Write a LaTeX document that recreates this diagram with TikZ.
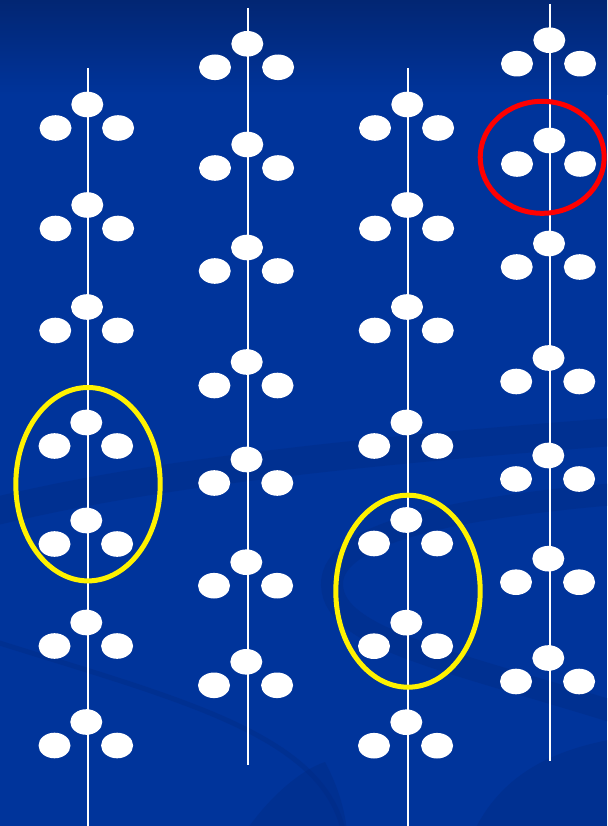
\documentclass[tikz,border=0pt]{standalone}
\usetikzlibrary{shapes.geometric}
\definecolor{bgmain}{RGB}{0,52,155}
\definecolor{bgtop}{RGB}{2,38,115}
\definecolor{bgdark}{RGB}{0,42,132}
\begin{document}
\begin{tikzpicture}[x=1pt,y=-1pt,
  dot/.style={ellipse, fill=white, minimum width=32pt, minimum height=25.6pt, inner sep=0pt, outer sep=0pt},
  stem/.style={white, line width=2pt},
  ring/.style={ellipse, draw, line width=5pt, inner sep=0pt, fill=none},
  swoosh/.style={bgdark, opacity=0.4, line cap=round}]
\useasboundingbox (0,0) rectangle (607,826);
\begin{scope}
\clip (0,0) rectangle (607,826);
% background
\fill[bgmain] (0,0) rectangle (607,826);
\shade[top color=bgtop, bottom color=bgmain] (0,0) rectangle (607,95);
% subtle swooshes
\draw[swoosh, line width=28pt] (-20,515) .. controls (120,480) and (300,455) .. (640,430);
\draw[swoosh, line width=22pt] (640,492) .. controls (470,505) and (330,530) .. (332,585) .. controls (334,640) and (450,660) .. (640,720);
\draw[swoosh, line width=5pt] (-10,640) .. controls (180,700) and (330,735) .. (345,840);
\fill[swoosh] (470,840) .. controls (500,770) and (560,745) .. (640,735) -- (640,840) -- cycle;
\fill[swoosh] (240,840) .. controls (265,800) and (300,770) .. (325,762) .. controls (340,790) and (346,815) .. (348,840) -- cycle;
% stems
\coordinate (s1a) at (87.5,68);  \coordinate (s1b) at (87.5,826);
\coordinate (s2a) at (247.5,8);  \coordinate (s2b) at (247.5,765);
\coordinate (s3a) at (407.5,68); \coordinate (s3b) at (407.5,826);
\coordinate (s4a) at (549.5,4);  \coordinate (s4b) at (549.5,761);
\draw[stem] (s1a) -- (s1b);
\draw[stem] (s2a) -- (s2b);
\draw[stem] (s3a) -- (s3b);
\draw[stem] (s4a) -- (s4b);
% leaf triplets
\foreach \x/\y [count=\i] in {87.3/104.5, 87.3/205, 87/307, 86.3/422.5, 86.3/520.5, 86.3/622.5, 86.3/722}{
  \node[dot] (c1t\i) at (\x,\y) {};
  \node[dot] (c1l\i) at ({\x-31.8},{\y+23.5}) {};
  \node[dot] (c1r\i) at ({\x+30.8},{\y+23.5}) {};
}
\foreach \x/\y [count=\i] in {247.3/43.8, 247.3/144.5, 247/247.5, 246.7/362, 246.5/459.5, 246.3/562.2, 246.3/661.8}{
  \node[dot] (c2t\i) at (\x,\y) {};
  \node[dot] (c2l\i) at ({\x-32.3},{\y+23.5}) {};
  \node[dot] (c2r\i) at ({\x+30.8},{\y+23.5}) {};
}
\foreach \x/\y [count=\i] in {407.3/104.5, 407.3/205, 407/307, 406.5/422.5, 406.3/520, 406.3/622.7, 406.3/722.2}{
  \node[dot] (c3t\i) at (\x,\y) {};
  \node[dot] (c3l\i) at ({\x-32.3},{\y+23.5}) {};
  \node[dot] (c3r\i) at ({\x+30.8},{\y+23.5}) {};
}
\foreach \x/\y [count=\i] in {549.3/40.2, 549.3/140.5, 549/243.5, 548.5/358, 548.3/455.5, 548.3/558.7, 548.3/658}{
  \node[dot] (c4t\i) at (\x,\y) {};
  \node[dot] (c4l\i) at ({\x-32.3},{\y+23.5}) {};
  \node[dot] (c4r\i) at ({\x+30.8},{\y+23.5}) {};
}
% highlight rings
\node[ring, draw=yellow, minimum width=144.4pt, minimum height=193.4pt] (ring1) at (88,484.2) {};
\node[ring, draw=yellow, minimum width=144.4pt, minimum height=192pt] (ring2) at (408,591.2) {};
\node[ring, draw=red, minimum width=124pt, minimum height=112pt] (ring3) at (542.2,157.3) {};
\end{scope}
\end{tikzpicture}
\end{document}
